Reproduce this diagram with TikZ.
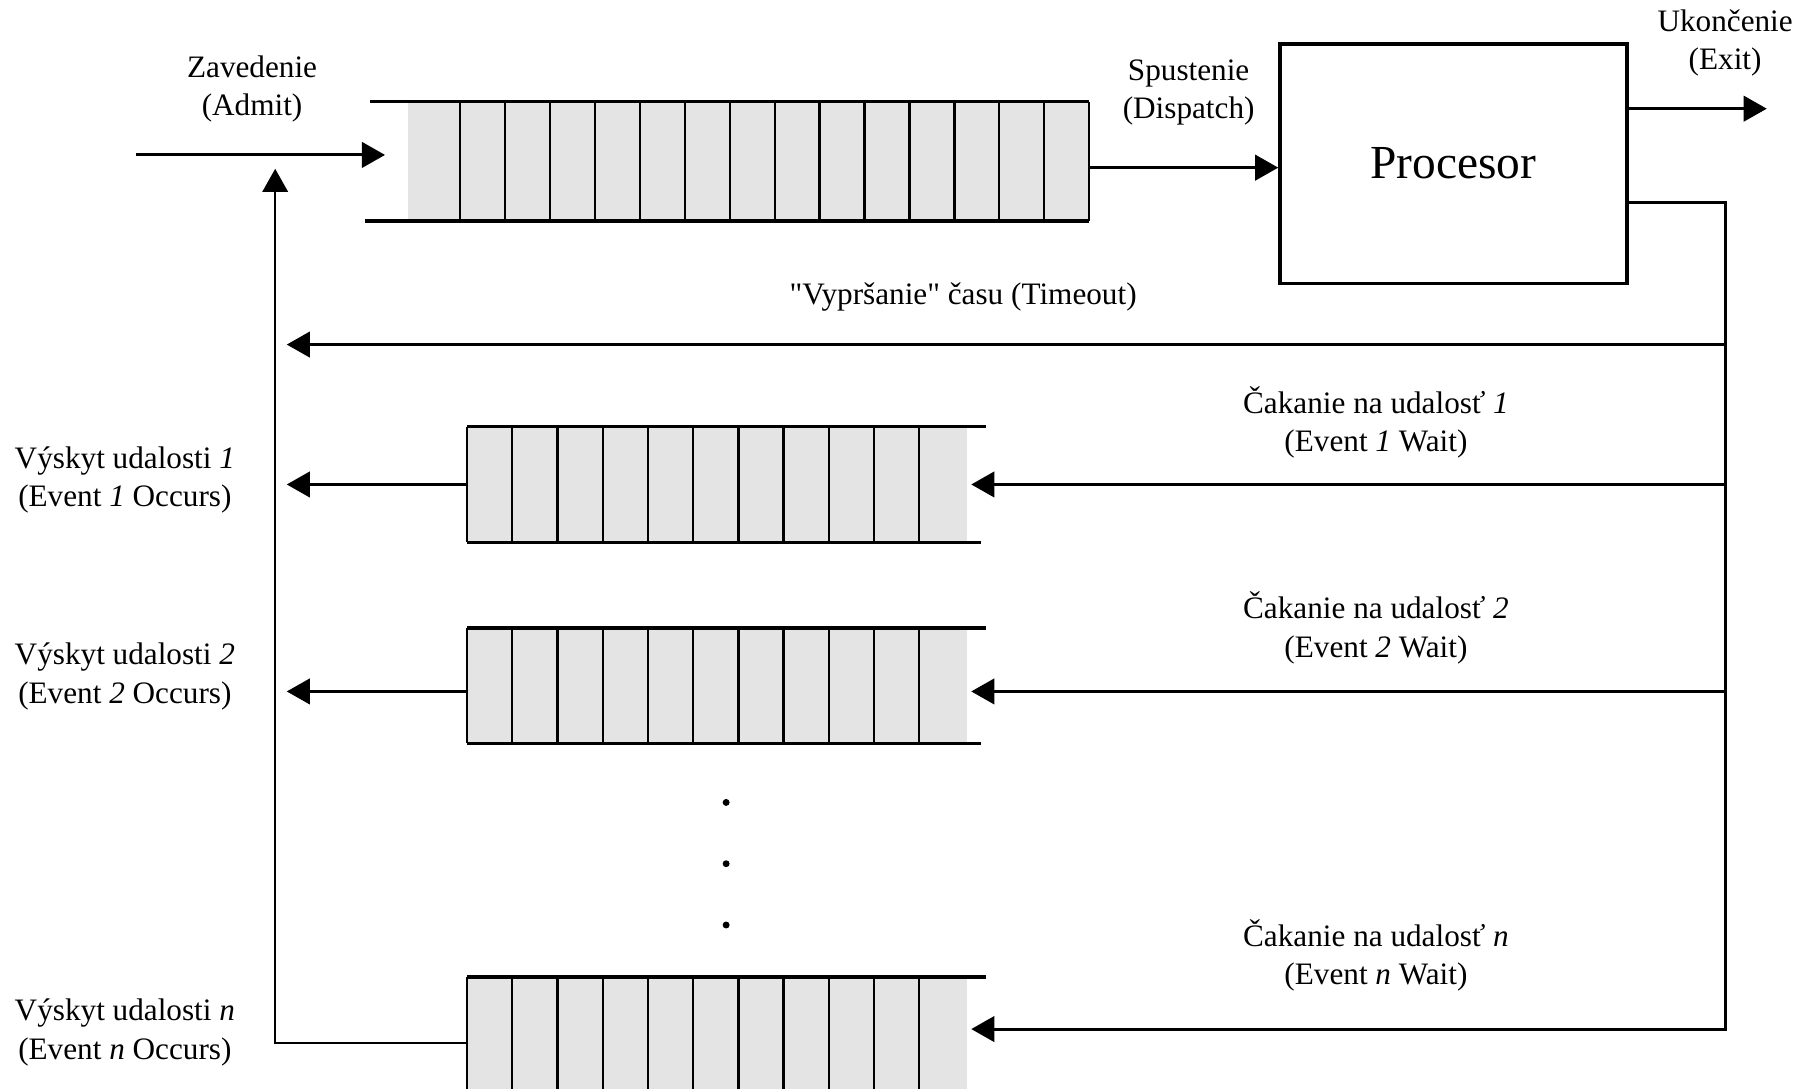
\documentclass[tikz,border=0pt]{standalone}
\usepackage{fontspec}
\setmainfont{Liberation Serif}
\usetikzlibrary{arrows.meta}
\definecolor{qgrey}{RGB}{228,228,228}
\begin{document}
\begin{tikzpicture}[x=1pt,y=-1pt,
  conn/.style={line width=2.5pt},
  arr/.style={conn,-{Triangle[length=20pt,width=22pt]}},
  qline/.style={line width=3pt},
  qdiv/.style={line width=2pt},
  qbox/.style={fill=qgrey,inner sep=0pt,anchor=north west},
  lbl/.style={align=center,inner sep=0pt,font=\fontsize{27}{33}\selectfont},
]
\useasboundingbox (0,0) rectangle (1568,942);

% ---------- main (ready) queue ----------
\node[qbox,minimum width=589pt,minimum height=103pt] (q0) at (353,88) {};
\foreach \i in {0,...,14} \draw[qdiv] ({398+\i*38.857},88) -- ++(0,103);
\draw[qline] (320,88) -- (942,88);
\draw[qline] (316,191) -- (942,191);

% ---------- processor ----------
\node[draw,line width=3pt,minimum width=300pt,minimum height=207pt,inner sep=0pt,
      font=\fontsize{41}{49}\selectfont] (proc) at (1257,141.5) {Procesor};

% ---------- admit ----------
\coordinate (admitS) at (118,134);
\coordinate (admitE) at (333,134);
\draw[arr] (admitS) -- (admitE);
\node[lbl] (admitL) at (218,77) {Zavedenie\\(Admit)};

% ---------- dispatch ----------
\coordinate (dispY) at (0,145);
\draw[arr] (q0.east |- dispY) -- (proc.west |- dispY);
\node[lbl] (dispL) at (1028,80) {Spustenie\\(Dispatch)};

% ---------- exit ----------
\coordinate (exitE) at (1528,94);
\draw[arr] (proc.east |- exitE) -- (exitE);
\node[lbl] (exitL) at (1492,37) {Ukončenie\\(Exit)};

% ---------- event queues ----------
\node[qbox,minimum width=432pt,minimum height=100pt] (q1) at (404,369) {};
\foreach \i in {0,...,10} \draw[qdiv] ({404+\i*39.1},369) -- ++(0,100);
\draw[qline] (404,369) -- (853,369);
\draw[qline] (404,469) -- (848,469);

\node[qbox,minimum width=432pt,minimum height=100pt] (q2) at (404,543) {};
\foreach \i in {0,...,10} \draw[qdiv] ({404+\i*39.1},543) -- ++(0,100);
\draw[qline] (404,543) -- (853,543);
\draw[qline] (404,643) -- (848,643);

\node[qbox,minimum width=432pt,minimum height=97pt] (qn) at (404,845) {};
\foreach \i in {0,...,10} \draw[qdiv] ({404+\i*39.1},845) -- ++(0,97);
\draw[qline] (404,845) -- (853,845);

% dots
\foreach \y [count=\k] in {694,747,800} \fill (628,\y) circle (3pt) coordinate (dot\k);

% ---------- right return line ----------
\coordinate (rx) at (1492,0);
\coordinate (loopY) at (0,175);
\coordinate (wnTip) at (840,890);
\draw[arr] (proc.east |- loopY) -| (rx |- wnTip) -- (wnTip);

\coordinate (toTip) at (248,298);
\draw[arr] (rx |- toTip) -- (toTip);
\node[lbl] (toL) at (833,257) {\textquotedbl Vypršanie\textquotedbl{} času (Timeout)};

\coordinate (w1Tip) at (840,419);
\draw[arr] (rx |- w1Tip) -- (w1Tip);
\node[lbl] (w1L) at (1190,365) {Čakanie na udalosť \textit{1}\\(Event \textit{1} Wait)};

\coordinate (w2Tip) at (840,598);
\draw[arr] (rx |- w2Tip) -- (w2Tip);
\node[lbl] (w2L) at (1190,543) {Čakanie na udalosť \textit{2}\\(Event \textit{2} Wait)};

\node[lbl] (wnL) at (1190,826) {Čakanie na udalosť \textit{n}\\(Event \textit{n} Wait)};

% ---------- event occurs ----------
\coordinate (o1Tip) at (248,419);
\draw[arr] (q1.west |- o1Tip) -- (o1Tip);
\node[lbl] (o1L) at (108,415) {Výskyt udalosti \textit{1}\\(Event \textit{1} Occurs)};

\coordinate (o2Tip) at (248,598);
\draw[arr] (q2.west |- o2Tip) -- (o2Tip);
\node[lbl] (o2L) at (108,585) {Výskyt udalosti \textit{2}\\(Event \textit{2} Occurs)};

\node[lbl] (onL) at (108,893) {Výskyt udalosti \textit{n}\\(Event \textit{n} Occurs)};

% ---------- left return to admit ----------
\coordinate (lx) at (238,0);
\coordinate (onY) at (0,902);
\coordinate (upTip) at (238,146);
\draw[line width=2pt,-{Triangle[length=20pt,width=22pt]}] (qn.west |- onY) -- (lx |- onY) -- (upTip);
\end{tikzpicture}
\end{document}
